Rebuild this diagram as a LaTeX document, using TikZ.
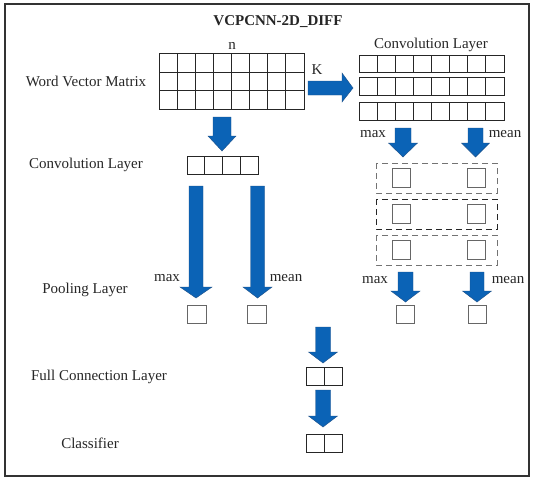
\documentclass[tikz,border=0pt]{standalone}
\usepackage{fontspec}
\setmainfont{Liberation Serif}
\definecolor{arrowblue}{HTML}{0B63B6}
\definecolor{arrowedge}{HTML}{1D4F86}
\newcommand\downarr[6]{% xc, ytop, ybase, ytip, shaft half width, head half width
  \path[barrow] (#1-#5,#2) -- (#1+#5,#2) -- (#1+#5,#3) -- (#1+#6,#3) -- (#1,#4)
    -- (#1-#6,#3) -- (#1-#5,#3) -- cycle;}
\newcommand\cellrow[5]{% x0, y0, x1, y1, ncols
  \draw[gridline] (#1,#2) rectangle (#3,#4);
  \foreach \k in {1,...,\numexpr#5-1\relax}{
    \draw[gridline] ({#1+(#3-#1)*\k/#5},#2) -- ({#1+(#3-#1)*\k/#5},#4);}}
\begin{document}
\begin{tikzpicture}[x=1pt,y=-1pt,
  lbl/.style={font=\fontsize{15}{17}\selectfont, text=black!85, inner sep=0},
  gridline/.style={draw=black!85, line width=0.9pt},
  sq/.style={draw=black!60, line width=1pt},
  dbox/.style={dash pattern=on 6pt off 4pt, line width=1pt},
  barrow/.style={fill=arrowblue, draw=arrowedge, line width=0.4pt}]
\useasboundingbox (0,0) rectangle (534,477);
\draw[line width=1.2pt, draw=black!80] (5,4) rectangle (529,476);

% texts
\node[lbl, font=\fontsize{15}{17}\selectfont\bfseries] (title) at (278,22) {VCPCNN-2D\_DIFF};
\node[lbl] (n) at (232,46) {n};
\node[lbl] (K) at (317,70) {K};
\node[lbl] (convR) at (431,45) {Convolution Layer};
\node[lbl] (wvm) at (86,81) {Word Vector Matrix};
\node[lbl] (convL) at (86,165) {Convolution Layer};
\node[lbl] (pool) at (85,290) {Pooling Layer};
\node[lbl] (fc) at (99,377) {Full Connection Layer};
\node[lbl] (cls) at (90,443) {Classifier};
\node[lbl] (max1) at (373,134) {max};
\node[lbl] (mean1) at (505,134) {mean};
\node[lbl] (max2) at (167,278) {max};
\node[lbl] (mean2) at (286,278) {mean};
\node[lbl] (max3) at (375,280) {max};
\node[lbl] (mean3) at (508,280) {mean};

% word vector matrix
\cellrow{159}{53}{304}{72}{8}
\cellrow{159}{72}{304}{90}{8}
\cellrow{159}{90}{304}{109}{8}

% right convolution rows
\cellrow{359}{55}{504}{72}{8}
\cellrow{359}{77}{504}{95}{8}
\cellrow{359}{102}{504}{120}{8}

% left convolution layer
\cellrow{187}{156}{258}{174}{4}

% dashed boxes
\draw[dbox, draw=black!55] (376,163) rectangle (497,193);
\draw[dbox, draw=black!85] (376,199) rectangle (497,229);
\draw[dbox, draw=black!55] (376,235) rectangle (497,265);
\foreach \yy in {168,204,240}{
  \draw[sq] (392,\yy) rectangle (410,\yy+19);
  \draw[sq] (467,\yy) rectangle (485,\yy+19);
}

% pooling squares
\draw[sq] (187,305) rectangle (206,323);
\draw[sq] (247,305) rectangle (266,323);
\draw[sq] (396,305) rectangle (414,323);
\draw[sq] (468,305) rectangle (486,323);

% full connection and classifier
\cellrow{306}{367}{342}{385}{2}
\cellrow{306}{434}{342}{452}{2}

% block arrows
\path[barrow] (308,81) -- (342,81) -- (342,73) -- (353,88) -- (342,102) -- (342,95) -- (308,95) -- cycle;
\downarr{222}{117}{136}{151}{9}{14}
\downarr{196}{186}{287}{298}{7}{16}
\downarr{257.5}{186}{287}{298}{7}{14.5}
\downarr{403}{128}{143}{157}{8}{14.5}
\downarr{475.5}{128}{143}{157}{7.5}{14}
\downarr{405.5}{272}{291}{302}{7.5}{14.5}
\downarr{477}{272}{291}{302}{7}{14.5}
\downarr{323}{327}{352}{363}{7.5}{14.5}
\downarr{323}{390}{416}{427}{7.5}{14.5}
\end{tikzpicture}
\end{document}
